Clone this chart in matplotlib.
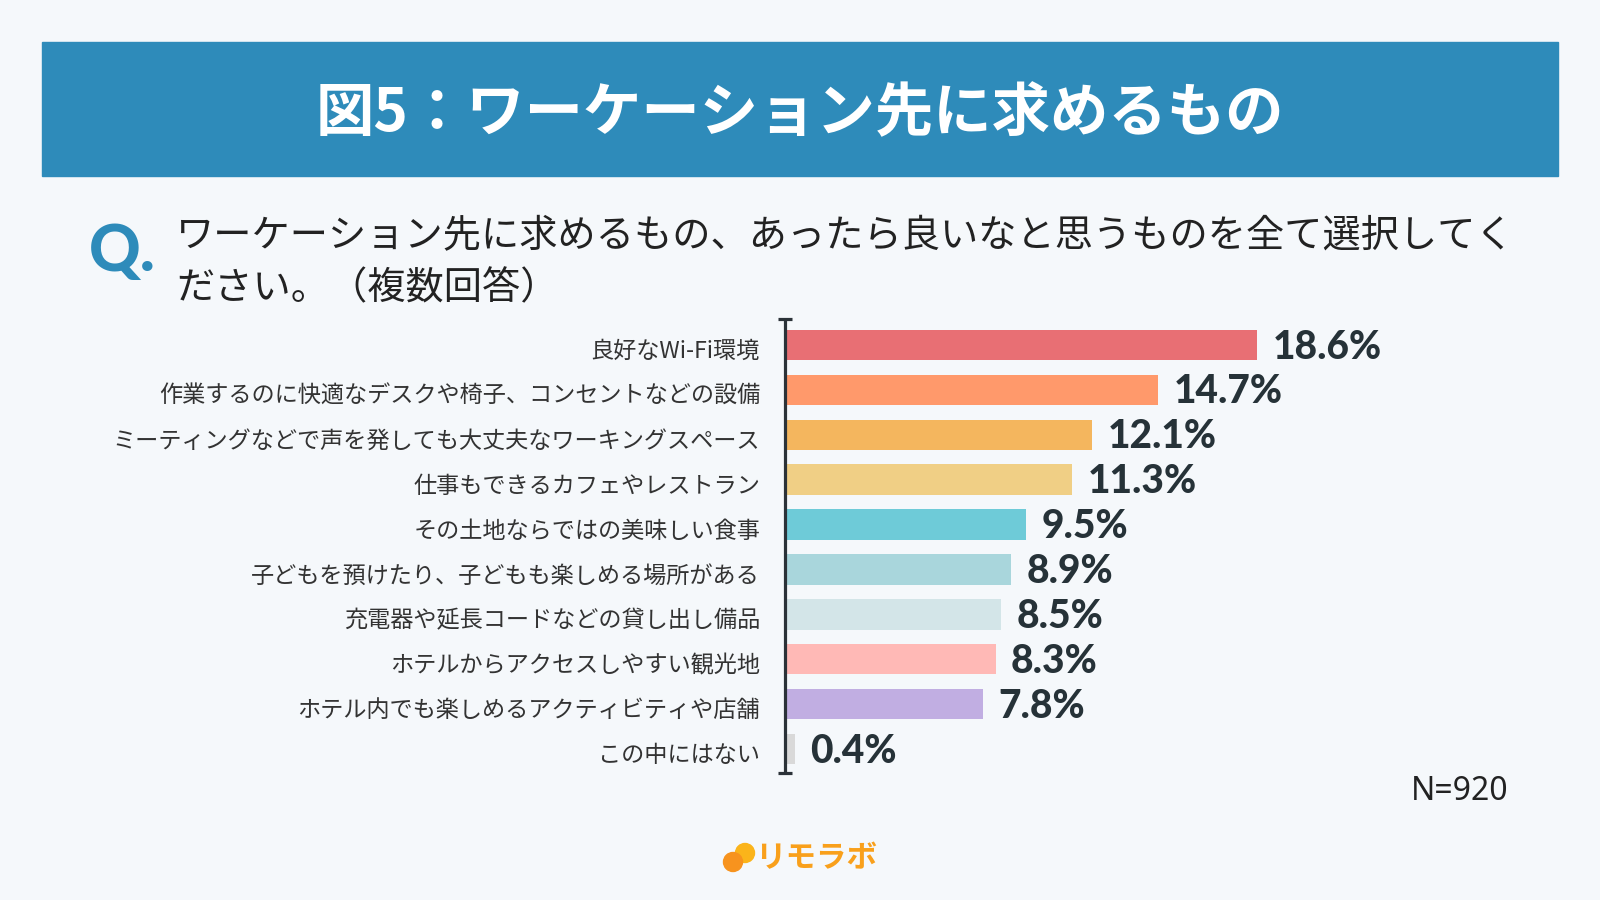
import matplotlib
matplotlib.use("Agg")
import matplotlib.pyplot as plt
from matplotlib.patches import Rectangle, Ellipse
from matplotlib.transforms import ScaledTranslation

plt.rcParams['font.family'] = ['Noto Sans CJK JP', 'DejaVu Sans']

categories = [
    "良好なWi-Fi環境",
    "作業するのに快適なデスクや椅子、コンセントなどの設備",
    "ミーティングなどで声を発しても大丈夫なワーキングスペース",
    "仕事もできるカフェやレストラン",
    "その土地ならではの美味しい食事",
    "子どもを預けたり、子どもも楽しめる場所がある",
    "充電器や延長コードなどの貸し出し備品",
    "ホテルからアクセスしやすい観光地",
    "ホテル内でも楽しめるアクティビティや店舗",
    "この中にはない",
]
values = [18.6, 14.7, 12.1, 11.3, 9.5, 8.9, 8.5, 8.3, 7.8, 0.4]
bar_colors = ["#E86F74", "#FF996B", "#F4B65E", "#F0CF85", "#6ECBD8",
              "#A9D6DC", "#D3E5E8", "#FFB9B6", "#C1AEE2", "#D9D9D9"]

title = "図5：ワーケーション先に求めるもの"
question = ["ワーケーション先に求めるもの、あったら良いなと思うものを全て選択してく",
            "ださい。（複数回答）"]
n_text = "N=920"
logo_text = "リモラボ"

W, H = 1600, 900
bg = "#F5F8FB"
blue = "#2E8BBA"
dark = "#263238"
heavy = ['Lato', 'DejaVu Sans']

fig = plt.figure(figsize=(16, 9), dpi=100, facecolor=bg)

def fx(x):
    return x / W

def fy(y):
    return 1 - y / H

# title band
fig.add_artist(Rectangle((fx(42), fy(176)), fx(1558 - 42), (176 - 42) / H,
                         transform=fig.transFigure, color=blue, zorder=0))
fig.text(fx(800), fy(114), title, color="white", fontsize=42, fontweight="bold",
         ha="center", va="center")

# question
fig.text(fx(89), fy(253), "Q.", color=blue, fontsize=46, fontweight="black",
         family=heavy, ha="left", va="center")
fig.text(fx(176), fy(237), question[0], color="#222222", fontsize=27.5, ha="left", va="center")
fig.text(fx(176), fy(289), question[1], color="#222222", fontsize=27.5, ha="left", va="center")

# bar axes: x=0 at 785px, 25.4 px per %
x0, x1 = 785, 785 + 25.4 * 30
y_top, y_bot = 319, 773
ax = fig.add_axes([fx(x0), fy(y_bot), (x1 - x0) / W, (y_bot - y_top) / H])
ax.set_facecolor("none")
ypos = list(range(len(categories)))
ax.barh(ypos, values, height=0.68, color=bar_colors, zorder=2)
ax.set_xlim(0, 30)
ax.set_ylim(9.535, -0.58)
ax.set_yticks(ypos)
ax.set_yticklabels(categories, fontsize=16.7, color="#333333")
ax.tick_params(axis="y", length=0, pad=18)
shift = ScaledTranslation(0, -4 / 100, fig.dpi_scale_trans)
for lbl in ax.get_yticklabels():
    lbl.set_transform(lbl.get_transform() + shift)
ax.set_xticks([])
for s in ax.spines.values():
    s.set_visible(False)
ax.plot([0, 0], [-0.58, 9.535], color="#2B3238", lw=2.3, marker="_",
        ms=10, mew=2.3, clip_on=False, zorder=3, solid_capstyle="butt")

for y, v in zip(ypos, values):
    ax.annotate(f"{v}%", (v, y), xytext=(11, -1.5), textcoords="offset points",
                fontsize=28, fontweight="black", color=dark,
                family=heavy, ha="left", va="center")

fig.text(fx(1508), fy(791), n_text, color="#222222", fontsize=23,
         family=['Noto Sans', 'DejaVu Sans'], ha="right", va="center")

# logo
fig.add_artist(Ellipse((fx(745), fy(853)), fx(19), 19 / H, transform=fig.transFigure,
                       color="#FBB41A"))
fig.add_artist(Ellipse((fx(733), fy(862)), fx(19), 19 / H, transform=fig.transFigure,
                       color="#F7931E"))
fig.text(fx(755), fy(858), logo_text, color="#F9A01B", fontsize=22, fontweight="bold",
         ha="left", va="center")

fig.savefig("out.png", dpi=100, facecolor=bg)
